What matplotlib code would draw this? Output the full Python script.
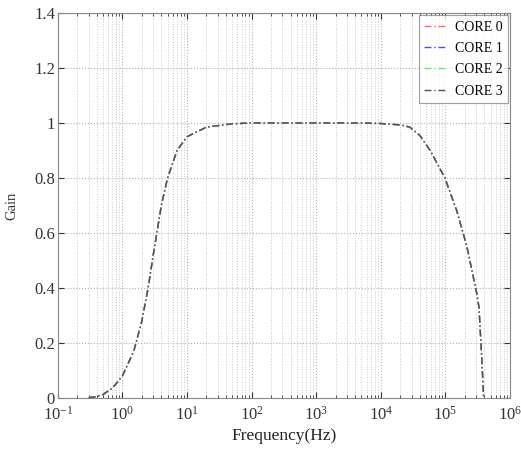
import matplotlib
matplotlib.use("Agg")
import matplotlib.pyplot as plt
from matplotlib.ticker import LogLocator, NullFormatter, FixedLocator

plt.rcParams['font.family'] = ['Liberation Serif', 'DejaVu Serif']
plt.rcParams['mathtext.fontset'] = 'stix'

# Frequency response samples (Hz, gain)
freq = [0.3, 0.4, 0.5, 0.7, 1.0, 1.5, 2.0, 2.5, 3.0, 4.0, 5.0, 7.0, 10, 20, 50,
        100, 1000, 5000, 10000, 20000, 28000, 40000, 58000, 98000, 150000,
        215000, 305000, 330000, 360000, 390000]
gain_core0 = [0.0, 0.005, 0.012, 0.035, 0.08, 0.17, 0.28, 0.40, 0.52, 0.70, 0.80,
              0.90, 0.95, 0.985, 0.997, 1.0, 1.0, 1.0, 0.998, 0.993, 0.985, 0.955,
              0.90, 0.80, 0.68, 0.55, 0.38, 0.33, 0.17, 0.0]
gain_core1 = list(gain_core0)
gain_core2 = list(gain_core0)
gain_core3 = list(gain_core0)

labels = ['CORE 0', 'CORE 1', 'CORE 2', 'CORE 3']
colors = ['#f07070', '#5050e0', '#70e070', '#505050']
series = [gain_core0, gain_core1, gain_core2, gain_core3]

fig = plt.figure(figsize=(5.21, 4.5), dpi=100)
ax = fig.add_axes([0.111, 0.116, 0.868, 0.855])

for g, c, lab in zip(series, colors, labels):
    ax.semilogx(freq, g, linestyle=(0, (5, 2, 1, 2)), color=c, lw=1.0, label=lab)

ax.set_xlim(0.1, 1e6)
ax.set_ylim(0, 1.4)
ax.xaxis.set_major_locator(LogLocator(base=10, numticks=20))
ax.xaxis.set_minor_locator(LogLocator(base=10, subs=range(2, 10), numticks=100))
ax.xaxis.set_minor_formatter(NullFormatter())
ax.yaxis.set_major_locator(FixedLocator([0, 0.2, 0.4, 0.6, 0.8, 1.0, 1.2, 1.4]))
ax.set_yticklabels(['0', '0.2', '0.4', '0.6', '0.8', '1', '1.2', '1.4'])

ax.grid(True, which='major', linestyle=':', color='#b0b0b0', lw=0.8)
ax.grid(True, which='minor', axis='x', linestyle=':', color='#c8c8c8', lw=0.7)

ax.tick_params(which='both', direction='in', top=True, right=True,
               labelsize=12, colors='#333333')
ax.tick_params(axis='y', pad=2)
ax.tick_params(axis='x', pad=6)
ax.tick_params(which='major', length=4)
ax.tick_params(which='minor', length=2)
for s in ax.spines.values():
    s.set_color('#888888')
    s.set_linewidth(0.8)

ax.set_xlabel('Frequency(Hz)', fontsize=12.5, color='#222222', labelpad=3)
ax.set_ylabel('Gain', fontsize=10.5, color='#333333', labelpad=11)

leg = ax.legend(loc='upper right', fontsize=10, frameon=True, fancybox=False,
                edgecolor='#888888', handlelength=1.6, borderaxespad=0.15,
                labelspacing=0.6, handletextpad=0.6)
leg.get_frame().set_linewidth(0.8)

fig.savefig('out.png', dpi=100)
